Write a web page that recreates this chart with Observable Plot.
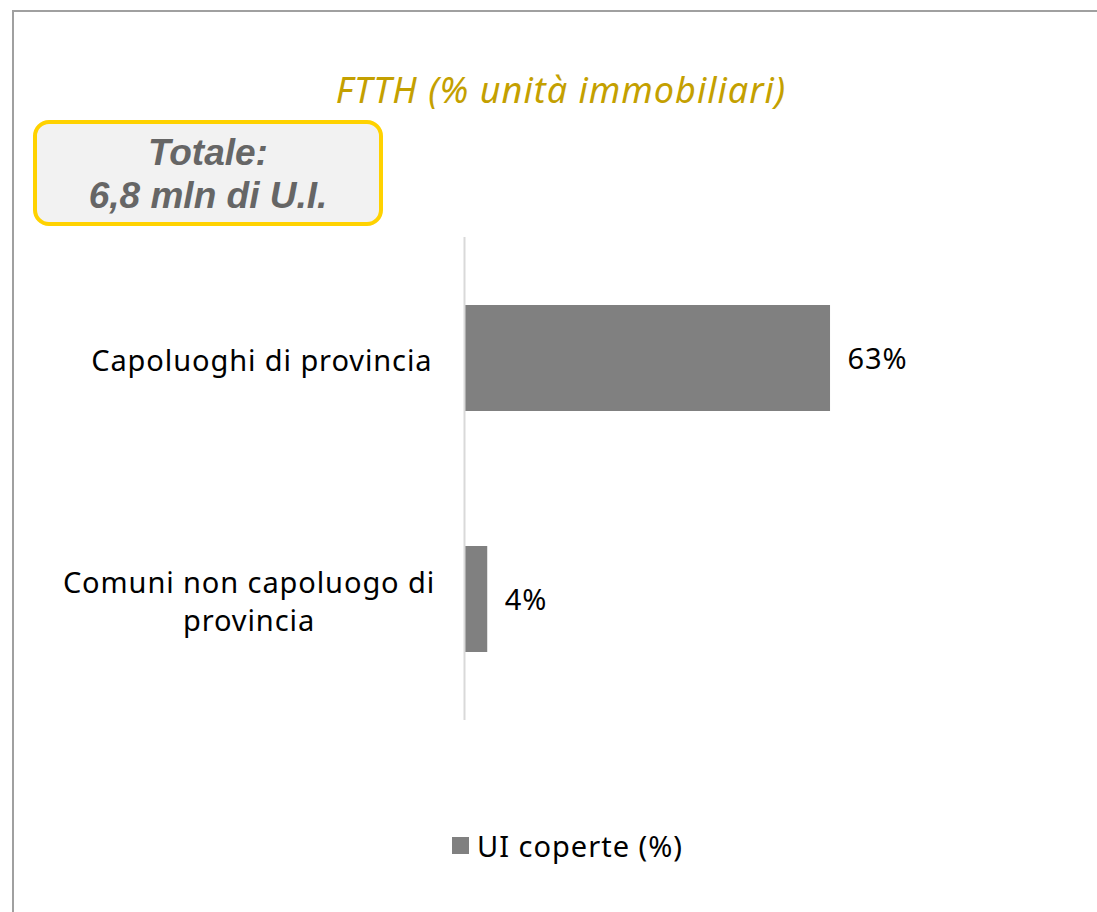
<!DOCTYPE html>
<html>
<head>
<meta charset="utf-8">
<script src="https://cdn.jsdelivr.net/npm/d3@7"></script>
<script src="https://cdn.jsdelivr.net/npm/@observablehq/plot@0.6"></script>
<style>
  html, body { margin: 0; padding: 0; background: #fff; }
  #page { position: relative; width: 1097px; height: 912px; overflow: hidden; background: #fff; }
  #frame { position: absolute; left: 12px; top: 10px; width: 2000px; height: 2000px;
           border-top: 2px solid #a0a0a0; border-left: 2px solid #a0a0a0; }
  #chart { position: absolute; left: 0; top: 0; }
  #title { position: absolute; left: 261px; width: 600px; top: 70px; text-align: center;
           font-family: "Noto Sans", sans-serif; font-style: italic; font-size: 36px; line-height: 40px;
           letter-spacing: 1px; color: #C4A000; white-space: nowrap; }
  #total { position: absolute; left: 33px; top: 120px; width: 342px; height: 98px;
           border: 4px solid #FFD200; border-radius: 16px; background: #F2F2F2;
           font-family: "Liberation Sans", Arial, sans-serif; font-weight: bold; font-style: italic;
           font-size: 37px; line-height: 43px; color: #666666; text-align: center;
           box-sizing: content-box; }
  #total div:first-child { margin-top: 7px; }
  #legend { position: absolute; left: 0; width: 1135px; top: 826px; display: flex; justify-content: center;
            align-items: center; font-family: "Noto Sans", sans-serif; font-size: 29px; letter-spacing: 1px; color: #000; }
  #legend .sw { width: 17px; height: 17px; margin-right: 8px; }
</style>
</head>
<body>
<div id="page">
  <div id="frame"></div>
  <div id="chart"></div>
  <div id="title"></div>
  <div id="total"></div>
  <div id="legend"></div>
</div>
<script>
// ---- data ----
const categories = ["Capoluoghi di provincia", "Comuni non capoluogo di provincia"];
const tickLabels = ["Capoluoghi di provincia", "Comuni non capoluogo di\nprovincia"];
const values = [63, 4];
const seriesName = "UI coperte (%)";
const titleText = "FTTH (% unità immobiliari)";
const totalLines = ["Totale:", "6,8 mln di U.I."];
const barColor = "#808080";

const data = categories.map((c, i) => ({category: c, value: values[i]}));
const labelOf = new Map(categories.map((c, i) => [c, tickLabels[i]]));

const font = "'Noto Sans', sans-serif";

const chart = Plot.plot({
  width: 1097,
  height: 912,
  marginLeft: 464,
  marginRight: 52,
  marginTop: 237,
  marginBottom: 192,
  style: {fontFamily: font, fontSize: "29px", letterSpacing: "0.9px", color: "#000", background: "transparent", overflow: "visible"},
  x: {domain: [0, 100], axis: null},
  y: {domain: categories, paddingInner: 0.56, paddingOuter: 0.28, label: null},
  marks: [
    Plot.barX(data, {x: "value", y: "category", fill: barColor}),
    Plot.ruleX([0], {stroke: "#d9d9d9", strokeWidth: 2}),
    Plot.axisY([categories[0]], {
      tickSize: 0, tickPadding: 32, textAnchor: "end", label: null,
      tickFormat: d => labelOf.get(d), fill: "#000", fontSize: 29, lineHeight: 1.31
    }),
    Plot.axisY([categories[1]], {
      tickSize: 0, tickPadding: 0, textAnchor: "middle", dx: -215.5, label: null,
      tickFormat: d => labelOf.get(d), fill: "#000", fontSize: 29, lineHeight: 1.31
    }),
    Plot.text(data, {x: "value", y: "category", text: d => d.value + "%", textAnchor: "start",
      dx: 17, dy: 1, fill: "#000", fontSize: 29})
  ]
});
document.getElementById("chart").appendChild(chart);

document.getElementById("title").textContent = titleText;
const totalEl = document.getElementById("total");
totalLines.forEach(t => { const d = document.createElement("div"); d.textContent = t; totalEl.appendChild(d); });

const lg = document.getElementById("legend");
const sw = document.createElement("div"); sw.className = "sw"; sw.style.background = barColor;
const lt = document.createElement("span"); lt.textContent = seriesName;
lg.appendChild(sw); lg.appendChild(lt);
</script>
</body>
</html>
